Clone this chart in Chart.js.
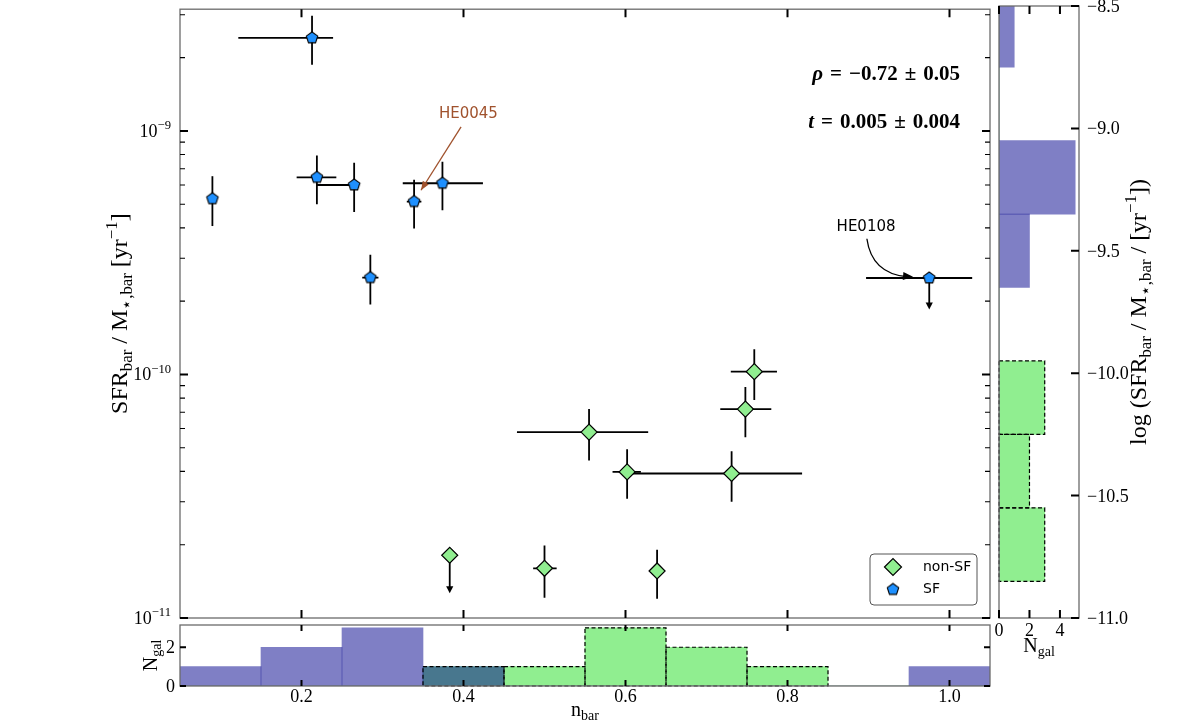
<!DOCTYPE html>
<html>
<head>
<meta charset="utf-8">
<title>SFR bar vs n bar</title>
<script src="https://cdn.jsdelivr.net/npm/chart.js@4.4.1/dist/chart.umd.min.js"></script>
<style>
  html, body { margin: 0; padding: 0; background: #fff; }
  #wrap { position: relative; width: 1200px; height: 723px; }
  #wrap canvas { position: absolute; left: 0; top: 0; }
</style>
</head>
<body>
<div id="wrap">
  <canvas id="mainChart" width="1200" height="723"></canvas>
  <canvas id="nbarHist" width="1200" height="723"></canvas>
  <canvas id="ssfrHist" width="1200" height="723"></canvas>
</div>
<script>
// --- star-forming bars (pentagons) ---
const sfNbar       = [0.090, 0.213, 0.219, 0.265, 0.285, 0.339, 0.374, 0.975];
const sfNbarErrLo  = [0.000, 0.091, 0.025, 0.046, 0.010, 0.009, 0.049, 0.078];
const sfNbarErrHi  = [0.000, 0.026, 0.024, 0.006, 0.010, 0.009, 0.050, 0.053];
const sfSsfr       = [5.27e-10, 2.41e-9, 6.45e-10, 6.0e-10, 2.5e-10, 5.13e-10, 6.1e-10, 2.49e-10];
const sfSsfrErrLo  = [1.20e-10, 0.54e-9, 1.45e-10, 1.35e-10, 0.56e-10, 1.15e-10, 1.38e-10, 0.64e-10];
const sfSsfrErrHi  = [1.25e-10, 0.56e-9, 1.48e-10, 1.40e-10, 0.60e-10, 1.18e-10, 1.38e-10, 0];
const sfUpperLimit = [false, false, false, false, false, false, false, true];

// --- non star-forming bars (diamonds) ---
const nsfNbar       = [0.383, 0.500, 0.555, 0.602, 0.639, 0.731, 0.748, 0.759];
const nsfNbarErrLo  = [0.000, 0.014, 0.089, 0.018, 0.000, 0.122, 0.031, 0.029];
const nsfNbarErrHi  = [0.000, 0.015, 0.073, 0.017, 0.000, 0.087, 0.032, 0.028];
const nsfSsfr       = [1.81e-11, 1.60e-11, 5.80e-11, 3.98e-11, 1.56e-11, 3.92e-11, 7.21e-11, 1.027e-10];
const nsfSsfrErrLo  = [0.545e-11, 0.39e-11, 1.37e-11, 0.89e-11, 0.36e-11, 0.92e-11, 1.69e-11, 2.42e-11];
const nsfSsfrErrHi  = [0, 0.386e-11, 1.41e-11, 0.95e-11, 0.345e-11, 0.92e-11, 1.68e-11, 2.41e-11];
const nsfUpperLimit = [true, false, false, false, false, false, false, false];

// --- histograms ---
const nbarBinCenters = [0.1, 0.2, 0.3, 0.4, 0.5, 0.6, 0.7, 0.8, 0.9, 1.0];
const sfNbarCounts   = [1, 2, 3, 1, 0, 0, 0, 0, 0, 1];
const nsfNbarCounts  = [0, 0, 0, 1, 1, 3, 2, 1, 0, 0];
const ssfrBinCenters = [-8.6, -8.9, -9.2, -9.5, -9.8, -10.1, -10.4, -10.7];
const sfSsfrCounts   = [1, 0, 5, 2, 0, 0, 0, 0];
const nsfSsfrCounts  = [0, 0, 0, 0, 0, 3, 2, 3];

// --- ticks ---
const nbarTicks      = [0.2, 0.4, 0.6, 0.8, 1.0];
const ssfrDecades    = [-11, -10, -9];
const logSsfrTicks   = [-11.0, -10.5, -10.0, -9.5, -9.0, -8.5];
const nbarCountTicks = [0, 2];
const ssfrCountTicks = [0, 2, 4];

const statLines = [['ρ', '\u2004=\u2004−0.72\u2004±\u20040.05'], ['t', '\u2004=\u20040.005\u2004±\u20040.004']];

// annotations, in data units
const he0045 = { label: 'HE0045', text: [0.406, 1.17e-9], from: [0.397, 1.04e-9], to: [0.3475, 5.71e-10] };
const he0108 = { label: 'HE0108', text: [0.897, 4.04e-10], from: [0.898, 3.61e-10], via: [0.904, 2.6e-10], to: [0.955, 2.52e-10] };

const SERIF = '"Liberation Serif", "Times New Roman", serif';
const SANS = '"DejaVu Sans", sans-serif';
const SPINE = '#6b6b6b';
const SF_BLUE = '#1e90ff';
const HIST_BLUE = 'rgba(0, 0, 139, 0.5)';
const GREEN = '#90ee90';

function makePentagon(r) {
  const c = document.createElement('canvas');
  const s = Math.ceil(2 * r + 4);
  c.width = s; c.height = s;
  const g = c.getContext('2d');
  g.beginPath();
  for (let k = 0; k < 5; k++) {
    const ang = -Math.PI / 2 + k * 2 * Math.PI / 5;
    const px = s / 2 + r * Math.cos(ang), py = s / 2 + r * Math.sin(ang);
    k ? g.lineTo(px, py) : g.moveTo(px, py);
  }
  g.closePath();
  g.fillStyle = SF_BLUE; g.fill();
  g.lineWidth = 1.1; g.strokeStyle = '#000'; g.stroke();
  return c;
}
const pentagon = makePentagon(6);

// text with sub / superscripts
function partFont(p, size, weight, family) {
  const s = (p.sub || p.sup) ? size * 0.7 : size;
  return (p.it ? 'italic ' : '') + weight + ' ' + s + 'px ' + family;
}
function drawRich(ctx, parts, x, y, size, o = {}) {
  const family = o.family || SERIF, weight = o.weight || 'normal';
  let total = 0;
  const widths = parts.map(p => {
    ctx.font = partFont(p, size, weight, family);
    const w = ctx.measureText(p.t).width;
    total += w;
    return w;
  });
  let cx = o.align === 'center' ? x - total / 2 : o.align === 'right' ? x - total : x;
  ctx.fillStyle = o.color || '#000';
  ctx.textAlign = 'left';
  ctx.textBaseline = 'alphabetic';
  parts.forEach((p, i) => {
    ctx.font = partFont(p, size, weight, family);
    const dy = p.sub ? size * 0.22 : p.sup ? -size * 0.42 : 0;
    ctx.fillText(p.t, cx, y + dy);
    cx += widths[i];
  });
}
function drawRotated(ctx, parts, x, y, size) {
  ctx.save();
  ctx.translate(x, y);
  ctx.rotate(-Math.PI / 2);
  drawRich(ctx, parts, 0, 0, size, { align: 'center' });
  ctx.restore();
}
function strokeSegs(ctx, segs, lw, color) {
  ctx.lineWidth = lw;
  ctx.strokeStyle = color || '#000';
  ctx.beginPath();
  segs.forEach(([x1, y1, x2, y2]) => { ctx.moveTo(x1, y1); ctx.lineTo(x2, y2); });
  ctx.stroke();
}
function drawFrame(ctx, a) {
  ctx.lineWidth = 1.3;
  ctx.strokeStyle = SPINE;
  ctx.strokeRect(a.left, a.top, a.right - a.left, a.bottom - a.top);
}
function arrowHead(ctx, fx, fy, tx, ty, len, half) {
  const ang = Math.atan2(ty - fy, tx - fx);
  ctx.beginPath();
  ctx.moveTo(tx, ty);
  ctx.lineTo(tx - len * Math.cos(ang) + half * Math.sin(ang), ty - len * Math.sin(ang) - half * Math.cos(ang));
  ctx.lineTo(tx - len * Math.cos(ang) - half * Math.sin(ang), ty - len * Math.sin(ang) + half * Math.cos(ang));
  ctx.closePath();
  ctx.fill();
}

const errorSets = [
  { x: sfNbar, xLo: sfNbarErrLo, xHi: sfNbarErrHi, y: sfSsfr, yLo: sfSsfrErrLo, yHi: sfSsfrErrHi, upper: sfUpperLimit },
  { x: nsfNbar, xLo: nsfNbarErrLo, xHi: nsfNbarErrHi, y: nsfSsfr, yLo: nsfSsfrErrLo, yHi: nsfSsfrErrHi, upper: nsfUpperLimit }
];

const errorBars = {
  id: 'errorBars',
  beforeDatasetsDraw(chart) {
    const { ctx, scales: { x, y } } = chart;
    ctx.save();
    ctx.fillStyle = '#000';
    errorSets.forEach(s => {
      s.x.forEach((xv, i) => {
        const px = x.getPixelForValue(xv), py = y.getPixelForValue(s.y[i]);
        const segs = [];
        if (s.xLo[i] || s.xHi[i]) {
          segs.push([x.getPixelForValue(xv - s.xLo[i]), py, x.getPixelForValue(xv + s.xHi[i]), py]);
        }
        if (s.upper[i]) {
          const tip = y.getPixelForValue(s.y[i] - s.yLo[i]);
          segs.push([px, py, px, tip - 4]);
          strokeSegs(ctx, segs, 1.8);
          arrowHead(ctx, px, py, px, tip, 7, 3.6);
        } else {
          segs.push([px, y.getPixelForValue(s.y[i] - s.yLo[i]), px, y.getPixelForValue(s.y[i] + s.yHi[i])]);
          strokeSegs(ctx, segs, 1.8);
        }
      });
    });
    ctx.restore();
  }
};

const mainDecor = {
  id: 'mainDecor',
  afterDraw(chart) {
    const { ctx, chartArea: a, scales: { x, y } } = chart;
    ctx.save();
    drawFrame(ctx, a);
    const major = [], minor = [];
    nbarTicks.forEach(v => {
      const px = x.getPixelForValue(v);
      major.push([px, a.top, px, a.top + 8], [px, a.bottom, px, a.bottom - 8]);
    });
    ssfrDecades.forEach(k => {
      const py = y.getPixelForValue(Math.pow(10, k));
      major.push([a.left, py, a.left + 8, py], [a.right, py, a.right - 8, py]);
      for (let m = 2; m <= 9; m++) {
        const v = m * Math.pow(10, k);
        if (v > y.max) break;
        const q = y.getPixelForValue(v);
        minor.push([a.left, q, a.left + 5, q], [a.right, q, a.right - 5, q]);
      }
    });
    strokeSegs(ctx, major, 2);
    strokeSegs(ctx, minor, 1.1);
    ssfrDecades.forEach(k => {
      const py = y.getPixelForValue(Math.pow(10, k));
      drawRich(ctx, [{ t: '10' }, { t: '−' + (-k), sup: true }], a.left - 9, py + 6, 18, { align: 'right' });
    });
    drawRotated(ctx, [{ t: 'SFR' }, { t: 'bar', sub: true }, { t: ' / M' }, { t: '⋆,bar', sub: true },
      { t: ' [yr' }, { t: '−1', sup: true }, { t: ']' }], 127, (a.top + a.bottom) / 2, 24);

    // statistics
    statLines.forEach((l, i) => {
      drawRich(ctx, [{ t: l[0], it: true }, { t: l[1] }], a.right - 30, a.top + 71 + i * 48, 21, { align: 'right', weight: 'bold' });
    });

    // HE0045 annotation
    ctx.font = '15px ' + SANS;
    ctx.textAlign = 'center';
    ctx.textBaseline = 'middle';
    ctx.fillStyle = 'sienna';
    ctx.fillText(he0045.label, x.getPixelForValue(he0045.text[0]), y.getPixelForValue(he0045.text[1]));
    let fx = x.getPixelForValue(he0045.from[0]), fy = y.getPixelForValue(he0045.from[1]);
    let tx = x.getPixelForValue(he0045.to[0]), ty = y.getPixelForValue(he0045.to[1]);
    strokeSegs(ctx, [[fx, fy, tx, ty]], 1.3, 'sienna');
    arrowHead(ctx, fx, fy, tx, ty, 9, 3.5);

    // HE0108 annotation
    ctx.fillStyle = '#000';
    ctx.fillText(he0108.label, x.getPixelForValue(he0108.text[0]), y.getPixelForValue(he0108.text[1]));
    fx = x.getPixelForValue(he0108.from[0]); fy = y.getPixelForValue(he0108.from[1]);
    const cx = x.getPixelForValue(he0108.via[0]), cy = y.getPixelForValue(he0108.via[1]);
    tx = x.getPixelForValue(he0108.to[0]); ty = y.getPixelForValue(he0108.to[1]);
    ctx.lineWidth = 1.3; ctx.strokeStyle = '#000';
    ctx.beginPath(); ctx.moveTo(fx, fy); ctx.quadraticCurveTo(cx, cy, tx - 6, ty); ctx.stroke();
    arrowHead(ctx, cx, cy, tx, ty, 10, 4);

    // legend
    const lx = a.right - 120, ly = a.bottom - 64;
    ctx.beginPath();
    ctx.roundRect(lx, ly, 107, 51, 4);
    ctx.fillStyle = '#fff'; ctx.fill();
    ctx.lineWidth = 1; ctx.strokeStyle = '#555'; ctx.stroke();
    const ds = chart.data.datasets;
    const mx = lx + 23;
    ctx.beginPath();
    ctx.moveTo(mx - 8.5, ly + 13); ctx.lineTo(mx, ly + 4.5); ctx.lineTo(mx + 8.5, ly + 13); ctx.lineTo(mx, ly + 21.5);
    ctx.closePath();
    ctx.fillStyle = GREEN; ctx.fill();
    ctx.lineWidth = 1.2; ctx.strokeStyle = '#000'; ctx.stroke();
    ctx.drawImage(pentagon, mx - pentagon.width / 2, ly + 35.5 - pentagon.height / 2);
    ctx.font = '14px ' + SANS;
    ctx.fillStyle = '#000';
    ctx.textAlign = 'left';
    ctx.textBaseline = 'middle';
    ctx.fillText(ds[0].label, lx + 53, ly + 13);
    ctx.fillText(ds[1].label, lx + 53, ly + 35.5);
    ctx.restore();
  }
};

// dashed outlines of the non-SF histogram bars
const dashedBars = {
  id: 'dashedBars',
  afterDatasetsDraw(chart) {
    const ctx = chart.ctx;
    const horiz = chart.options.indexAxis === 'y';
    chart.data.datasets.forEach((ds, di) => {
      if (!ds.dashedEdge) return;
      const meta = chart.getDatasetMeta(di);
      ctx.save();
      ctx.setLineDash([4, 2.5]);
      ctx.lineWidth = 1.2;
      ctx.strokeStyle = '#000';
      meta.data.forEach((bar, i) => {
        const count = horiz ? ds.data[i].x : ds.data[i].y;
        if (!count) return;
        const p = bar.getProps(['x', 'y', 'base', 'width', 'height'], true);
        if (horiz) ctx.strokeRect(p.base, p.y - p.height / 2, p.x - p.base, p.height);
        else ctx.strokeRect(p.x - p.width / 2, p.y, p.width, p.base - p.y);
      });
      ctx.restore();
    });
  }
};

const nbarDecor = {
  id: 'nbarDecor',
  afterDraw(chart) {
    const { ctx, chartArea: a, scales: { x, y } } = chart;
    ctx.save();
    drawFrame(ctx, a);
    const segs = [];
    nbarTicks.forEach(v => {
      const px = x.getPixelForValue(v);
      segs.push([px, a.top, px, a.top + 6], [px, a.bottom, px, a.bottom - 6]);
      drawRich(ctx, [{ t: v.toFixed(1) }], px, a.bottom + 16, 18, { align: 'center' });
    });
    nbarCountTicks.forEach(v => {
      const py = y.getPixelForValue(v);
      segs.push([a.left, py, a.left + 6, py], [a.right, py, a.right - 6, py]);
      drawRich(ctx, [{ t: String(v) }], a.left - 5, py + 6, 18, { align: 'right' });
    });
    strokeSegs(ctx, segs, 2);
    drawRich(ctx, [{ t: 'n' }, { t: 'bar', sub: true }], (a.left + a.right) / 2, a.bottom + 30, 20, { align: 'center' });
    drawRotated(ctx, [{ t: 'N' }, { t: 'gal', sub: true }], 157, (a.top + a.bottom) / 2, 20);
    ctx.restore();
  }
};

const ssfrDecor = {
  id: 'ssfrDecor',
  afterDraw(chart) {
    const { ctx, chartArea: a, scales: { x, y } } = chart;
    ctx.save();
    drawFrame(ctx, a);
    const segs = [];
    ssfrCountTicks.forEach(v => {
      const px = x.getPixelForValue(v);
      segs.push([px, a.top, px, a.top + 8], [px, a.bottom, px, a.bottom - 8]);
      drawRich(ctx, [{ t: String(v) }], px, a.bottom + 18, 18, { align: 'center' });
    });
    logSsfrTicks.forEach(v => {
      const py = y.getPixelForValue(v);
      segs.push([a.right, py, a.right - 8, py]);
      drawRich(ctx, [{ t: v.toFixed(1).replace('-', '−') }], a.right + 8, py + 6, 18);
    });
    strokeSegs(ctx, segs, 2);
    drawRich(ctx, [{ t: 'N' }, { t: 'gal', sub: true }], (a.left + a.right) / 2, a.bottom + 34, 20, { align: 'center' });
    drawRotated(ctx, [{ t: 'log (SFR' }, { t: 'bar', sub: true }, { t: ' / M' }, { t: '⋆,bar', sub: true },
      { t: ' / [yr' }, { t: '−1', sup: true }, { t: '])' }], 1146, (a.top + a.bottom) / 2, 24);
    ctx.restore();
  }
};

const common = {
  responsive: false,
  animation: false,
  events: [],
  plugins: { legend: { display: false }, tooltip: { enabled: false } }
};

new Chart(document.getElementById('mainChart'), {
  type: 'scatter',
  data: {
    datasets: [
      {
        label: 'non-SF',
        data: nsfNbar.map((v, i) => ({ x: v, y: nsfSsfr[i] })),
        pointStyle: 'rectRot',
        pointRadius: 8,
        backgroundColor: GREEN,
        borderColor: '#000',
        borderWidth: 1.2
      },
      {
        label: 'SF',
        data: sfNbar.map((v, i) => ({ x: v, y: sfSsfr[i] })),
        pointStyle: pentagon,
        pointRadius: 6
      }
    ]
  },
  options: {
    ...common,
    layout: { padding: { left: 180, right: 210, top: 6, bottom: 105 } },
    scales: {
      x: { type: 'linear', min: 0.05, max: 1.05, display: false },
      y: { type: 'logarithmic', min: 1e-11, max: Math.pow(10, -8.5), display: false }
    }
  },
  plugins: [errorBars, mainDecor]
});

new Chart(document.getElementById('nbarHist'), {
  type: 'bar',
  data: {
    datasets: [
      {
        label: 'SF',
        data: nbarBinCenters.map((c, i) => ({ x: c, y: sfNbarCounts[i] })),
        backgroundColor: HIST_BLUE,
        borderWidth: 0,
        grouped: false,
        barPercentage: 1,
        categoryPercentage: 1
      },
      {
        label: 'non-SF',
        data: nbarBinCenters.map((c, i) => ({ x: c, y: nsfNbarCounts[i] })),
        backgroundColor: GREEN,
        borderWidth: 0,
        grouped: false,
        barPercentage: 1,
        categoryPercentage: 1,
        dashedEdge: true
      }
    ]
  },
  options: {
    ...common,
    layout: { padding: { left: 180, right: 210, top: 625, bottom: 37 } },
    scales: {
      x: { type: 'linear', min: 0.05, max: 1.05, offset: false, display: false },
      y: { type: 'linear', min: 0, max: 3.15, display: false }
    }
  },
  plugins: [dashedBars, nbarDecor]
});

new Chart(document.getElementById('ssfrHist'), {
  type: 'bar',
  data: {
    datasets: [
      {
        label: 'SF',
        data: ssfrBinCenters.map((c, i) => ({ x: sfSsfrCounts[i], y: c })),
        backgroundColor: HIST_BLUE,
        borderWidth: 0,
        grouped: false,
        barPercentage: 1,
        categoryPercentage: 1
      },
      {
        label: 'non-SF',
        data: ssfrBinCenters.map((c, i) => ({ x: nsfSsfrCounts[i], y: c })),
        backgroundColor: GREEN,
        borderWidth: 0,
        grouped: false,
        barPercentage: 1,
        categoryPercentage: 1,
        dashedEdge: true
      }
    ]
  },
  options: {
    ...common,
    indexAxis: 'y',
    layout: { padding: { left: 999, right: 121, top: 6, bottom: 105 } },
    scales: {
      x: { type: 'linear', min: 0, max: 5.25, display: false },
      y: { type: 'linear', min: -11, max: -8.5, offset: false, display: false }
    }
  },
  plugins: [dashedBars, ssfrDecor]
});
</script>
</body>
</html>
